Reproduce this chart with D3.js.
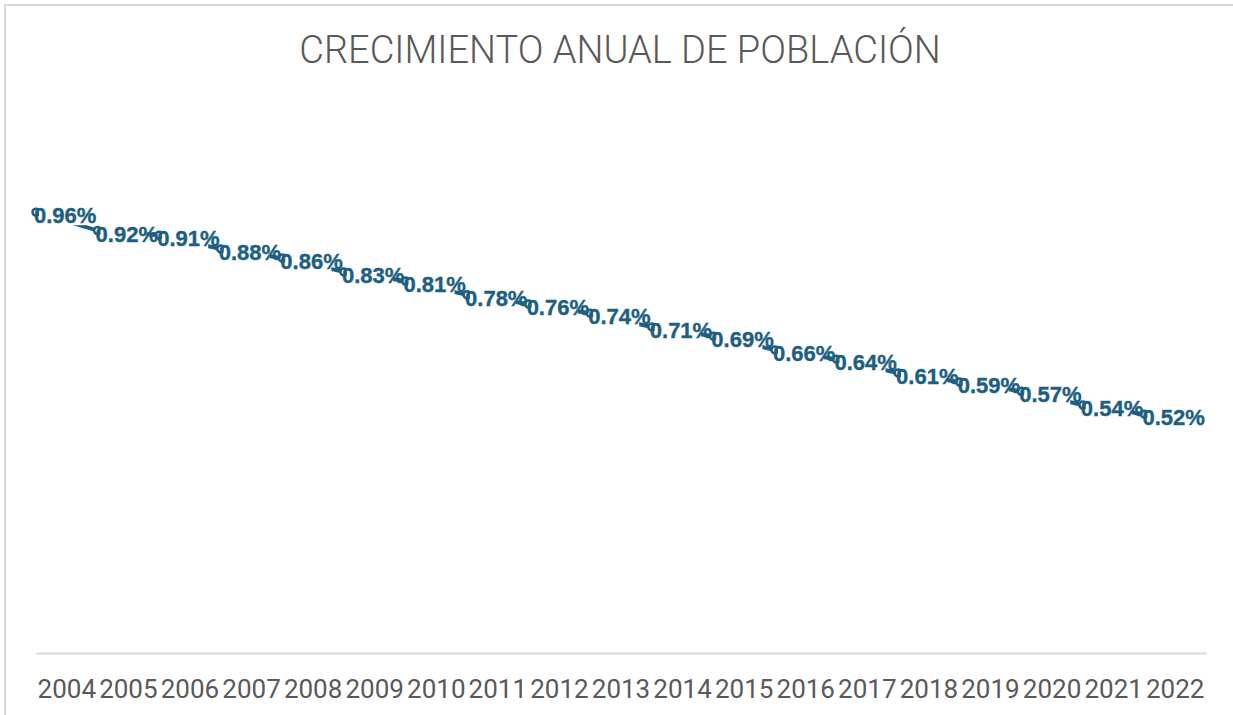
<!DOCTYPE html>
<html>
<head>
<meta charset="utf-8">
<script src="https://cdn.jsdelivr.net/npm/d3@7"></script>
<style>
  body { margin: 0; background: #fff; }
  svg { display: block; }
</style>
</head>
<body>
<div id="vis"></div>
<script>
// crecimiento anual de poblacion, valores en %
var years = ["2004","2005","2006","2007","2008","2009","2010","2011","2012","2013",
             "2014","2015","2016","2017","2018","2019","2020","2021","2022"];
var growth = [0.96, 0.92, 0.91, 0.88, 0.86, 0.83, 0.81, 0.78, 0.76, 0.74,
              0.71, 0.69, 0.66, 0.64, 0.61, 0.59, 0.57, 0.54, 0.52];
var yDomain = [0, 1.2];
var titleText = "CRECIMIENTO ANUAL DE POBLACIÓN";

var w = 1233,
    h = 715,
    plotLeft = 36,
    plotRight = 1206,
    plotTop = 102,
    plotBottom = 653,
    color = "#1d5f82";

var data = years.map(function(d, i) { return { year: d, value: growth[i] }; });

var x = d3.scaleBand().domain(years).range([plotLeft, plotRight]).padding(0);
var y = d3.scaleLinear().domain(yDomain).range([plotBottom, plotTop]);

var svg = d3.select("#vis")
    .append("svg")
    .attr("width", w)
    .attr("height", h);

// chart frame
svg.append("rect")
    .attr("x", 5)
    .attr("y", 5)
    .attr("width", w + 10)
    .attr("height", h + 10)
    .attr("fill", "none")
    .attr("stroke", "#d9d9d9")
    .attr("stroke-width", 2);

svg.append("text")
    .attr("x", 620)
    .attr("y", 63)
    .attr("text-anchor", "middle")
    .attr("font-family", "Roboto")
    .attr("font-weight", 300)
    .attr("font-size", 38)
    .attr("fill", "#595959")
    .text(titleText);

// category axis
var xAxis = d3.axisBottom(x).tickSize(0).tickPadding(0);
var gx = svg.append("g")
    .attr("transform", "translate(0," + plotBottom + ")")
    .call(xAxis);
gx.select(".domain")
    .attr("stroke", "#d9d9d9")
    .attr("stroke-width", 2);
gx.selectAll("text")
    .attr("font-family", "Roboto")
    .attr("font-size", 26)
    .attr("fill", "#595959")
    .attr("dy", null)
    .attr("y", 45);

var line = d3.line()
    .x(function(d) { return x(d.year); })
    .y(function(d) { return y(d.value); });

svg.append("path")
    .datum(data)
    .attr("d", line)
    .attr("fill", "none")
    .attr("stroke", color)
    .attr("stroke-width", 4);

svg.selectAll(".marker")
    .data(data)
    .enter().append("circle")
    .attr("class", "marker")
    .attr("cx", function(d) { return x(d.year); })
    .attr("cy", function(d) { return y(d.value); })
    .attr("r", 3.5)
    .attr("fill", "#fff")
    .attr("stroke", color)
    .attr("stroke-width", 2.5);

// labels sit right of each point, box hides the line under the digits
var labels = svg.selectAll(".lbl")
    .data(data)
    .enter().append("g")
    .attr("class", "lbl")
    .attr("transform", function(d) { return "translate(" + (x(d.year) - 2) + "," + y(d.value) + ")"; });

labels.append("rect")
    .attr("x", 5)
    .attr("y", -6)
    .attr("width", 46)
    .attr("height", 19)
    .attr("fill", "#fff");

labels.append("text")
    .attr("x", 0)
    .attr("y", 11)
    .attr("font-family", "Liberation Sans, Arial, sans-serif")
    .attr("font-weight", "bold")
    .attr("font-size", 22)
    .attr("fill", color)
    .attr("stroke", color)
    .attr("stroke-width", 0.4)
    .text(function(d) { return d.value.toFixed(2) + "%"; });
</script>
</body>
</html>
